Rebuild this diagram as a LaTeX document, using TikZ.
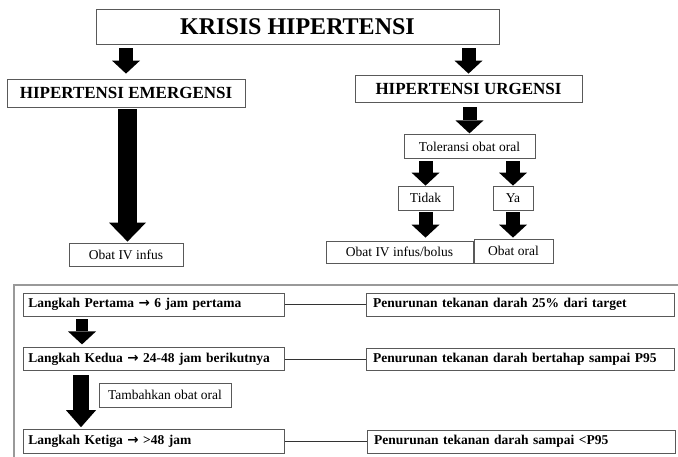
\documentclass[tikz,border=0pt]{standalone}
\usepackage{fontspec}
\setmainfont{Liberation Serif}
\newfontfamily\arrowfont{DejaVu Sans}
\usetikzlibrary{positioning,calc,arrows.meta}

\begin{document}
\begin{tikzpicture}[x=1pt, y=1pt, node distance=2cm,
    box/.style={draw=black!65, line width=0.8pt, inner sep=0pt, minimum height=24pt,
        font=\fontsize{13.5}{15}\selectfont},
    headbox/.style={box, font=\fontsize{17}{20}\selectfont\bfseries},
    stepbox/.style={box, anchor=west, minimum width=261pt, text width=251pt, align=left,
        font=\fontsize{13.5}{15}\selectfont\bfseries},
    goalbox/.style={box, anchor=west, minimum width=308pt, text width=294pt, align=left,
        font=\fontsize{13.5}{15}\selectfont\bfseries},
    fat/.style={line width=14pt, -{Triangle[width=28pt,length=13pt,line width=0pt]}},
    link/.style={black!80, line width=1.5pt}]
    \path[use as bounding box] (0,0) rectangle (678,-456);
    \clip (0,0) rectangle (678,-456);

    \node[box, minimum width=403pt, minimum height=35pt, font=\fontsize{24}{28}\selectfont\bfseries]
        (KH) at (297.5,-26.5) {KRISIS HIPERTENSI};
    \node[headbox, minimum width=238pt, minimum height=28pt] (HE) at (126,-93) {HIPERTENSI EMERGENSI};
    \node[headbox, minimum width=227pt, minimum height=27pt] (HU) at (468.5,-88.5) {HIPERTENSI URGENSI};

    \node[box, minimum width=114pt, minimum height=23pt] (IV) at (126,-254.5) {Obat IV infus};

    \node[box, minimum width=131pt, below=32pt of HU.south, xshift=1pt] (TOL) {Toleransi obat oral};
    \node[box, minimum width=55pt] (TDK) at (425.5,-198) {Tidak};
    \node[box, minimum width=40pt] (YA) at (513,-198) {Ya};
    \node[box, minimum width=147pt, minimum height=22pt] (IVB) at (399.5,-252) {Obat IV infus/bolus};
    \node[box, minimum width=79pt] (OR) at (513.5,-251) {Obat oral};

    \draw[fat, shorten <=4pt, shorten >=5pt] (HE.north |- KH.south) -- (HE.north);
    \draw[fat, shorten <=4pt, shorten >=1pt] (HU.north |- KH.south) -- (HU.north);
    \draw[fat, shorten <=5pt, shorten >=1pt] (TOL.north |- HU.south) -- (TOL.north);
    \draw[fat, shorten <=2pt] (TDK.north |- TOL.south) -- (TDK.north);
    \draw[fat, shorten <=2pt] (YA.north |- TOL.south) -- (YA.north);
    \draw[fat, shorten <=2pt, shorten >=3pt] (TDK.south) -- (TDK.south |- IVB.north);
    \draw[fat, shorten <=2pt, shorten >=1pt] (YA.south) -- (YA.south |- OR.north);
    \draw[line width=19pt, -{Triangle[width=37pt,length=19pt,line width=0pt]},
        shorten <=2pt, shorten >=1pt] ([xshift=1.5pt]HE.south) -- ([xshift=1.5pt]IV.north);

    \draw[black!40, line width=1.5pt] (14,-285) rectangle (700,-480);

    \node[stepbox, minimum height=23pt] (L1) at (23,-304.5)
        {Langkah Pertama {\arrowfont\bfseries →} 6 jam pertama};
    \node[stepbox, minimum height=23pt, below=31pt of L1.south west, anchor=north west] (L2)
        {Langkah Kedua {\arrowfont\bfseries →} 24-48 jam berikutnya};
    \node[stepbox, below=58pt of L2.south west, anchor=north west] (L3)
        {Langkah Ketiga {\arrowfont\bfseries →} >48 jam};

    \node[goalbox, minimum height=23pt, right=81pt of L1] (P1) {Penurunan tekanan darah 25\% dari target};
    \node[goalbox, minimum height=22pt, right=81pt of L2] (P2) {Penurunan tekanan darah bertahap sampai P95};
    \node[goalbox, minimum height=23pt, right=82pt of L3] (P3) {Penurunan tekanan darah sampai <P95};

    \node[box, minimum width=132pt] (TAM) at (165,-395) {Tambahkan obat oral};

    \draw[link] (L1.east) -- (L1.east -| P1.west);
    \draw[link] (L2.east) -- (L2.east -| P2.west);
    \draw[link] (L3.east) -- (L3.east -| P3.west);

    \draw[fat, line width=12pt, shorten <=3pt, shorten >=3pt]
        ([xshift=59pt]L1.south west) -- ([xshift=59pt]L2.north west);
    \draw[fat, line width=16pt, -{Triangle[width=30pt,length=17pt,line width=0pt]},
        shorten <=4pt, shorten >=2pt] ([xshift=58pt]L2.south west) -- ([xshift=58pt]L3.north west);
\end{tikzpicture}
\end{document}
